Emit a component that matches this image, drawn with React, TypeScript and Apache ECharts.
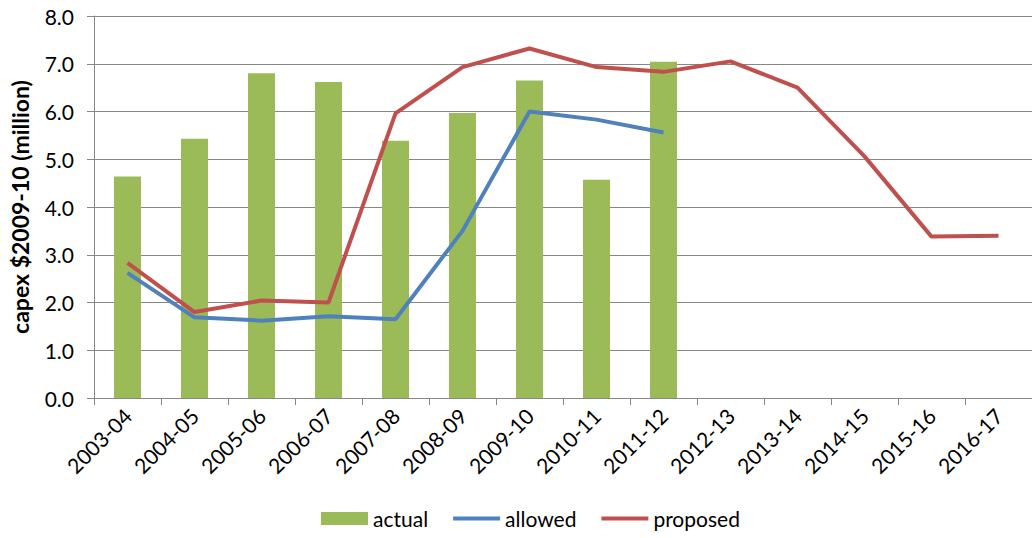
import React, { useEffect, useRef } from "react";
import * as echarts from "echarts";

const categories = ["2003-04","2004-05","2005-06","2006-07","2007-08","2008-09","2009-10","2010-11","2011-12","2012-13","2013-14","2014-15","2015-16","2016-17"];
const actual = [4.64, 5.43, 6.8, 6.62, 5.39, 5.97, 6.65, 4.57, 7.04, null, null, null, null, null];
const allowed = [2.62, 1.69, 1.62, 1.71, 1.65, 3.5, 6.0, 5.83, 5.56, null, null, null, null, null];
const proposed = [2.83, 1.8, 2.04, 2.0, 5.96, 6.93, 7.32, 6.93, 6.83, 7.05, 6.5, 5.06, 3.38, 3.4];
const yTicks = { min: 0, max: 8, interval: 1 };

const FONT = "Lato, 'Open Sans', sans-serif";
const LINE_ICON = "path://M0,0H47V4H0Z";

export default function App() {
  const ref = useRef<HTMLDivElement>(null);
  useEffect(() => {
    if (!ref.current) return;
    const chart = echarts.init(ref.current, undefined, { renderer: "svg" });
    chart.setOption({
      animation: false,
      textStyle: { fontFamily: FONT },
      grid: { left: 89, top: 16, width: 950, height: 382, containLabel: false },
      legend: {
        bottom: 4,
        left: 316,
        itemGap: 25,
        itemWidth: 47,
        itemHeight: 13,
        textStyle: { fontSize: 21, color: "#000", fontFamily: FONT },
        data: [
          { name: "actual", icon: "rect" },
          { name: "allowed", icon: LINE_ICON },
          { name: "proposed", icon: LINE_ICON },
        ],
      },
      xAxis: {
        type: "category",
        data: categories,
        boundaryGap: true,
        axisLine: { lineStyle: { color: "#878787", width: 1 } },
        axisTick: { show: true, alignWithLabel: false, length: 7, lineStyle: { color: "#878787" } },
        axisLabel: { rotate: 45, fontSize: 21, color: "#000", margin: 14, interval: 0, fontFamily: FONT },
      },
      yAxis: {
        type: "value",
        min: yTicks.min,
        max: yTicks.max,
        interval: yTicks.interval,
        name: "capex $2009-10 (million)",
        nameLocation: "middle",
        nameGap: 63,
        nameTextStyle: { fontSize: 23, fontWeight: "bold", color: "#000", fontFamily: FONT },
        axisLine: { show: true, lineStyle: { color: "#878787", width: 1 } },
        axisTick: { show: true, length: 7, lineStyle: { color: "#878787" } },
        axisLabel: { fontSize: 21, color: "#000", margin: 20, formatter: (v: number) => v.toFixed(1), fontFamily: FONT },
        splitLine: { show: true, lineStyle: { color: "#878787", width: 1 } },
      },
      series: [
        {
          name: "actual",
          type: "bar",
          data: actual,
          barWidth: 27,
          itemStyle: { color: "#9BBB59" },
        },
        {
          name: "allowed",
          type: "line",
          data: allowed,
          symbol: "none",
          lineStyle: { color: "#4F81BD", width: 4 },
          itemStyle: { color: "#4F81BD" },
        },
        {
          name: "proposed",
          type: "line",
          data: proposed,
          symbol: "none",
          lineStyle: { color: "#C0504D", width: 4 },
          itemStyle: { color: "#C0504D" },
        },
      ],
    });
    return () => chart.dispose();
  }, []);
  return (
    <div
      ref={ref}
      style={{ position: "fixed", left: 0, top: 0, width: 1032, height: 538, background: "#fff" }}
    />
  );
}
